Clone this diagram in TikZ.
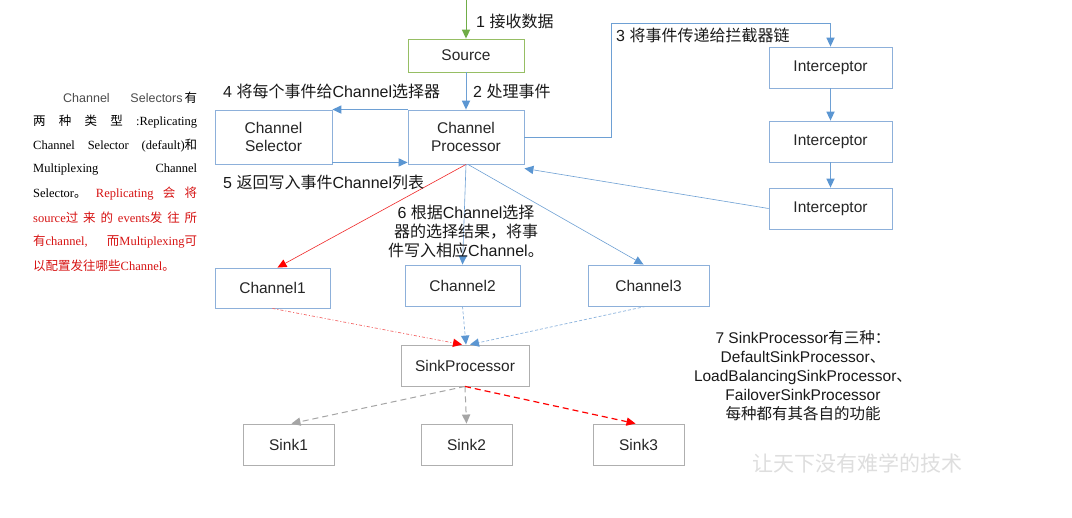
\documentclass[tikz,border=0pt]{standalone}
\usepackage{fontspec}
\setmainfont{Liberation Sans}
\newfontfamily\cjk{Noto Sans CJK SC}
\newfontfamily\serifL{Liberation Serif}
\usetikzlibrary{arrows.meta}
\newcommand\zh[1]{{\cjk #1}}
\definecolor{boxblue}{RGB}{141,176,218}
\definecolor{linkblue}{RGB}{110,160,212}
\definecolor{tipblue}{RGB}{91,150,210}
\definecolor{boxgreen}{RGB}{150,190,100}
\definecolor{linkgreen}{RGB}{112,173,71}
\definecolor{boxgray}{RGB}{175,175,175}
\definecolor{linkgray}{RGB}{165,165,165}
\definecolor{cred}{RGB}{215,20,20}
\definecolor{lred}{RGB}{240,40,40}
\definecolor{wmgray}{RGB}{222,222,222}
\tikzset{
  box/.style={draw=boxblue, line width=0.9pt, inner sep=0pt, align=center,
    font=\fontsize{15.5}{18.5}\selectfont, text=black!85},
  gbox/.style={box, draw=boxgreen},
  graybox/.style={box, draw=boxgray},
  tipc/.style={-{Triangle[length=9pt,width=8.5pt,line width=0pt,color=#1,fill=#1]}},
  barrow/.style={tipc=tipblue, draw=linkblue, line width=0.9pt},
  tbarrow/.style={tipc=tipblue, draw=linkblue, line width=0.6pt},
  garrow/.style={tipc=linkgreen, draw=linkgreen, line width=1pt},
  rarrow/.style={tipc=red, draw=lred, line width=0.6pt},
  rdot/.style={tipc=red, draw=lred!70, line width=0.7pt, dash pattern=on 3pt off 2pt on 1pt off 2pt},
  bdot/.style={tipc=tipblue, draw=linkblue!80, line width=0.7pt, dash pattern=on 3pt off 2pt},
  gdash/.style={tipc=linkgray, draw=linkgray, line width=1pt, dash pattern=on 6pt off 4pt},
  rdash/.style={tipc=red, draw=red, line width=1.2pt, dash pattern=on 6pt off 4pt},
  lbl/.style={anchor=west, inner sep=0pt, font=\fontsize{16}{19}\selectfont, text=black!90},
  clbl/.style={inner sep=0pt, align=center, font=\fontsize{16}{19}\selectfont, text=black!90},
  para/.style={anchor=west, inner sep=0pt, font=\serifL\fontsize{12.5}{14}\selectfont, text=black}
}
\begin{document}
\begin{tikzpicture}[x=1pt,y=-1pt]
\useasboundingbox[fill=white] (0,0) rectangle (1072,518);

% nodes
\node[gbox, minimum width=116pt, minimum height=33pt] (src) at (466,55.5) {Source};
\node[box, minimum width=117pt, minimum height=54pt] (sel) at (273.5,137) {Channel\\Selector};
\node[box, minimum width=116pt, minimum height=54pt] (proc) at (466,137) {Channel\\Processor};
\node[box, minimum width=123pt, minimum height=41pt] (ic1) at (830.5,67.5) {Interceptor};
\node[box, minimum width=123pt, minimum height=41pt] (ic2) at (830.5,141.5) {Interceptor};
\node[box, minimum width=123pt, minimum height=41pt] (ic3) at (830.5,208.5) {Interceptor};
\node[box, minimum width=115pt, minimum height=40pt] (ch1) at (272.5,288) {Channel1};
\node[box, minimum width=115pt, minimum height=41pt] (ch2) at (462.5,285.5) {Channel2};
\node[box, minimum width=121pt, minimum height=41pt] (ch3) at (648.5,285.5) {Channel3};
\node[graybox, minimum width=128pt, minimum height=41pt] (sp) at (465,365.5) {SinkProcessor};
\node[graybox, minimum width=91pt, minimum height=41pt] (s1) at (288.5,444.5) {Sink1};
\node[graybox, minimum width=91pt, minimum height=41pt] (s2) at (466.5,444.5) {Sink2};
\node[graybox, minimum width=91pt, minimum height=41pt] (s3) at (638.5,444.5) {Sink3};

\coordinate (top) at (466,0);
\coordinate (c3) at (611,23);

% connectors
\draw[garrow] (top) -- (src.north);
\draw[barrow] (src.south) -- (proc.north);
\draw[barrow] (proc.north west) -- (sel.north east);
\draw[barrow] ([yshift=2pt]sel.south east) -- ([yshift=2pt]proc.south west);
\draw[tbarrow] (proc.east) -| (c3) -| (ic1.north);
\draw[barrow] (ic1) -- (ic2);
\draw[barrow] (ic2) -- (ic3);
\draw[tbarrow] (ic3.west) -- ([yshift=-4pt]proc.south east);
\draw[rarrow] (proc.south) -- ([xshift=5pt]ch1.north);
\draw[tbarrow] (proc.south) -- (ch2.north);
\draw[tbarrow] ([xshift=2pt]proc.south) -- ([xshift=-5pt]ch3.north);
\draw[rdot] (ch1.south) -- ([xshift=-3pt]sp.north);
\draw[bdot] (ch2.south) -- ([xshift=1pt]sp.north);
\draw[bdot] ([xshift=-3pt]ch3.south) -- ([xshift=5pt]sp.north);
\draw[gdash] (sp.south) -- ([xshift=3pt]s1.north);
\draw[gdash] (sp.south) -- (s2.north);
\draw[rdash] (sp.south) -- ([xshift=-3pt]s3.north);

% labels
\node[lbl] (l1) at (476,21) {1 \zh{接收数据}};
\node[lbl] (l2) at (473,91) {2 \zh{处理事件}};
\node[lbl] (l4) at (223,91) {4 \zh{将每个事件给}Channel\zh{选择器}};
\node[lbl] (l5) at (223,182) {5 \zh{返回写入事件}Channel\zh{列表}};
\node[lbl] (l3) at (616,35) {3 \zh{将事件传递给拦截器链}};
\node[clbl] (l6) at (466,231) {6 \zh{根据}Channel\zh{选择}\\\zh{器的选择结果，将事}\\\zh{件写入相应}Channel\zh{。}};
\node[clbl, font=\fontsize{15.5}{19}\selectfont] (l7) at (803,376) {7 SinkProcessor\zh{有三种：}\\DefaultSinkProcessor\zh{、}\\LoadBalancingSinkProcessor\zh{、}\\FailoverSinkProcessor\\\zh{每种都有其各自的功能}};
\node[inner sep=0pt, text=wmgray, font=\cjk\fontsize{21}{21}\selectfont] (wm) at (857,463) {让天下没有难学的技术};

% left paragraph
\node[para] (p1) at (63,98) {\makebox[134pt][l]{{\rmfamily\color{black!70}Channel\hfill Selectors}\,\zh{有}}};
\node[para] (p2) at (33,122) {\makebox[164pt][l]{\zh{两}\hfill\zh{种}\hfill\zh{类}\hfill\zh{型}\hfill :Replicating}};
\node[para] (p3) at (33,146) {\makebox[164pt][l]{Channel\hfill Selector\hfill (default)\zh{和}}};
\node[para] (p4) at (33,170) {\makebox[164pt][l]{Multiplexing\hfill Channel}};
\node[para] (p5) at (33,194) {\makebox[164pt][l]{Selector\zh{。}\hfill\textcolor{cred}{Replicating}\hfill\textcolor{cred}{\zh{会}}\hfill\textcolor{cred}{\zh{将}}}};
\node[para, text=cred] (p6) at (33,218) {\makebox[164pt][l]{source\zh{过}\hfill\zh{来}\hfill\zh{的}\hfill events\zh{发}\hfill\zh{往}\hfill\zh{所}}};
\node[para, text=cred] (p7) at (33,242) {\makebox[164pt][l]{\zh{有}channel,\hfill\zh{而}Multiplexing\zh{可}}};
\node[para, text=cred] (p8) at (33,266) {\zh{以配置发往哪些}Channel\zh{。}};
\end{tikzpicture}
\end{document}
